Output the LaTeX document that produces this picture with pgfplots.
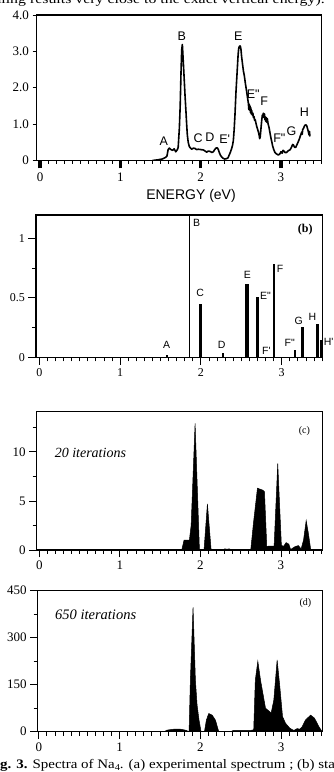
\documentclass[border=0pt]{standalone}
\usepackage{fontspec}
\setmainfont{Liberation Serif}
\newfontfamily\hv{Liberation Sans}
\newfontfamily\wide{Liberation Serif}[FakeStretch=1.22]
\newfontfamily\capwide{Liberation Serif}[FakeStretch=1.15]
\usepackage{pgfplots}
\pgfplotsset{compat=1.18}

\pgfplotsset{
  spec/.style={
    scale only axis, anchor=north west,
    axis line style={line width=1.3pt},
    tick align=outside, tick pos=left,
    xtick={0,1,2,3},
    minor xtick={0.1,0.2,...,3.55},
    every tick/.style={black, line width=0.9pt},
    tick label style={font=\fontsize{13}{13}\selectfont},
    /pgf/number format/assume math mode=true,
    clip mode=individual,
  },
}
\tikzset{
  pk/.style={font=\hv\fontsize{12.5}{12.5}\selectfont, inner sep=0pt},
  pkb/.style={font=\hv\fontsize{10.5}{10.5}\selectfont, inner sep=0pt},
}

\begin{document}
\begin{tikzpicture}
\path[use as bounding box] (0pt,0pt) rectangle (333pt,772pt);

% running text above and caption below
\node[anchor=base east, inner sep=0pt, font=\wide\fontsize{13}{13}\selectfont] at (325pt,768pt)
  {rivaling results very close to the exact vertical energy).};
\node[anchor=base west, inner sep=0pt, font=\capwide\fontsize{13}{13}\selectfont] at (0pt,4pt)
  {\llap{\textbf{Fi}}\textbf{g. 3.} Spectra of Na\raisebox{-0.35ex}{\fontsize{9}{9}\selectfont 4}. (a) experimental spectrum ; (b) sta};

% (a) experimental spectrum
\begin{axis}[spec, at={(36.5pt,757pt)}, width=285.2pt, height=145.5pt,
  xmin=-0.044, xmax=3.507, ymin=0, ymax=4,
  ytick={0,1,2,3,4}, yticklabels={0,1.0,2.0,3.0,4.0},
  major tick length=4pt, minor tick length=3.5pt,
  xticklabel style={yshift=-5pt},
  extra x ticks={0,1,2,3}, extra x tick labels={},
  extra x tick style={major tick length=8pt, tick style={line width=3.5pt}},
]
\addplot[black, line width=1.6pt, line join=round] coordinates {
(1.40,0)(1.47,0.02)(1.52,0.04)(1.56,0.08)(1.58,0.12)(1.595,0.30)(1.61,0.34)
(1.63,0.30)(1.65,0.28)(1.67,0.32)(1.69,0.24)(1.71,0.30)(1.72,0.36)(1.735,0.9)
(1.745,1.5)(1.755,2.4)(1.764,3.05)(1.772,3.19)(1.778,2.95)(1.784,2.7)(1.79,2.45)
(1.797,2.15)(1.805,1.8)(1.817,1.34)(1.826,0.98)(1.834,0.70)(1.845,0.50)(1.859,0.38)
(1.888,0.31)(1.91,0.34)(1.93,0.33)(1.95,0.30)(1.97,0.31)(2.0,0.30)(2.033,0.29)
(2.055,0.26)(2.075,0.23)(2.095,0.26)(2.116,0.25)(2.14,0.22)(2.158,0.24)(2.175,0.30)
(2.19,0.34)(2.207,0.35)(2.22,0.30)(2.232,0.22)(2.245,0.15)(2.26,0.10)(2.28,0.06)
(2.30,0.04)(2.32,0.05)(2.34,0.07)(2.355,0.15)(2.365,0.20)(2.375,0.26)(2.386,0.33)
(2.397,0.42)(2.407,0.55)(2.417,0.85)(2.427,1.25)(2.44,1.9)(2.457,2.55)(2.466,2.9)
(2.473,3.07)(2.48,3.13)(2.49,3.15)(2.496,3.12)(2.502,3.05)(2.51,2.85)(2.523,2.62)
(2.533,2.45)(2.543,2.34)(2.558,2.1)(2.573,1.89)(2.584,1.72)(2.594,1.57)(2.60,1.40)
(2.604,1.55)(2.61,1.38)(2.614,1.50)(2.62,1.32)(2.625,1.45)(2.63,1.28)(2.635,1.38)
(2.642,1.25)(2.65,1.30)(2.657,1.18)(2.664,1.21)(2.672,1.10)(2.68,1.12)(2.689,1.02)
(2.70,0.92)(2.71,0.85)(2.718,0.79)(2.728,0.70)(2.735,0.60)(2.742,0.66)(2.751,0.88)
(2.76,1.10)(2.768,1.25)(2.775,1.18)(2.78,1.30)(2.789,1.22)(2.795,1.28)(2.80,1.12)
(2.806,1.20)(2.81,1.08)(2.818,1.18)(2.823,1.05)(2.83,1.15)(2.84,1.0)(2.85,0.92)
(2.86,0.80)(2.872,0.65)(2.885,0.52)(2.896,0.40)(2.91,0.30)(2.925,0.22)(2.945,0.18)
(2.967,0.15)(2.985,0.18)(3.0,0.24)(3.015,0.20)(3.025,0.28)(3.037,0.26)(3.05,0.22)
(3.07,0.22)(3.09,0.27)(3.112,0.29)(3.13,0.36)(3.145,0.44)(3.154,0.43)(3.17,0.36)
(3.183,0.36)(3.2,0.44)(3.216,0.52)(3.23,0.60)(3.245,0.70)(3.258,0.78)(3.265,0.72)
(3.27,0.85)(3.28,0.88)(3.29,0.94)(3.30,0.97)(3.31,0.98)(3.32,0.96)(3.33,0.88)
(3.34,0.80)(3.35,0.70)(3.355,0.80)(3.36,0.66)
};
\node[pk] at (axis cs:1.54,0.52) {A};
\node[pk] at (axis cs:1.764,3.43) {B};
\node[pk] at (axis cs:1.97,0.61) {C};
\node[pk] at (axis cs:2.116,0.63) {D};
\node[pk] at (axis cs:2.30,0.58) {E'};
\node[pk] at (axis cs:2.47,3.43) {E};
\node[pk] at (axis cs:2.655,1.82) {E"};
\node[pk] at (axis cs:2.79,1.63) {F};
\node[pk] at (axis cs:2.98,0.61) {F"};
\node[pk] at (axis cs:3.13,0.80) {G};
\node[pk] at (axis cs:3.29,1.33) {H};
\end{axis}
\node[font=\hv\fontsize{14}{14}\selectfont, inner sep=0pt] at (191pt,576pt) {ENERGY (eV)};

% (b) stick spectrum
\begin{axis}[spec, at={(36pt,557pt)}, width=286.7pt, height=142.3pt,
  xmin=-0.041, xmax=3.507, ymin=0, ymax=1.196,
  ytick={0,0.5,1}, yticklabels={0,0.5,1}, minor ytick={0.25,0.75},
  major tick length=7.5pt, minor tick length=4pt,
  tick label style={font=\fontsize{12}{12}\selectfont},
]
\addplot[ycomb, black, line width=1.4pt] coordinates {(1.857,2)(2.904,0.78)};
\addplot[ycomb, black, line width=3.3pt] coordinates {
  (1.993,0.445)(2.570,0.613)(2.702,0.51)(3.255,0.258)(3.44,0.28)};
\addplot[ycomb, black, line width=2.2pt] coordinates {
  (1.584,0.02)(2.269,0.034)(3.168,0.062)(3.486,0.146)};
\node[pkb] at (axis cs:1.947,1.126) {B};
\node[pkb] at (axis cs:1.99,0.538) {C};
\node[pkb] at (axis cs:1.576,0.104) {A};
\node[pkb] at (axis cs:2.257,0.104) {D};
\node[pkb] at (axis cs:2.574,0.69) {E};
\node[pkb] at (axis cs:2.80,0.515) {E"};
\node[pkb] at (axis cs:2.81,0.053) {F'};
\node[pkb] at (axis cs:2.98,0.74) {F};
\node[pkb] at (axis cs:3.10,0.118) {F"};
\node[pkb] at (axis cs:3.21,0.31) {G};
\node[pkb] at (axis cs:3.38,0.34) {H};
\node[pkb] at (axis cs:3.58,0.13) {H'};
\node[font=\fontsize{12}{12}\selectfont\bfseries, inner sep=0pt] at (axis cs:3.29,1.07) {(b)};
\end{axis}

% (c) 20 iterations
\begin{axis}[spec, at={(36.7pt,360.3pt)}, width=286pt, height=138.3pt,
  xmin=-0.032, xmax=3.518, ymin=0, ymax=14.1,
  ytick={0,5,10}, minor ytick={2.5,7.5,12.5},
  major tick length=7.5pt, minor tick length=4pt,
]
\addplot[fill=black, draw=black, line width=0.5pt] coordinates {
(1.75,0)(1.768,0)(1.797,1.0)(1.863,1.0)(1.885,2.5)(1.934,12.9)(1.988,0)(2.045,0)
(2.087,4.7)(2.133,0)(2.29,0)(2.30,0.12)(2.33,0.08)(2.36,0.12)(2.38,0)(2.625,0)
(2.658,2.7)(2.708,6.3)(2.774,6.1)(2.795,5.95)(2.824,0.3)(2.845,0.4)(2.915,0.4)
(2.96,8.8)(3.005,0.5)(3.03,0.35)(3.064,0.75)(3.097,0.6)(3.12,0.05)(3.176,0.35)
(3.217,0.45)(3.25,0.1)(3.28,1.0)(3.313,3.0)(3.34,1.7)(3.37,0)(3.5,0)
} \closedcycle;
\node[anchor=base west, inner sep=0pt, font=\fontsize{14}{14}\selectfont\itshape] at (axis cs:0.19,9.4) {20 iterations};
\node[font=\fontsize{10}{10}\selectfont, inner sep=0pt] at (axis cs:3.29,12.1) {(c)};
\end{axis}

% (d) 650 iterations
\begin{axis}[spec, at={(37.7pt,181.3pt)}, width=285pt, height=141pt,
  xmin=-0.014, xmax=3.514, ymin=0, ymax=450,
  ytick={0,150,300,450}, minor ytick={75,225,375},
  major tick length=7.5pt, minor tick length=4pt,
]
\addplot[fill=black, draw=black, line width=0.5pt] coordinates {
(1.55,0)(1.587,5)(1.67,8)(1.752,8)(1.814,5)(1.843,2)(1.86,0)(1.876,165)(1.909,397)
(1.938,165)(1.959,85)(1.983,37)(2.008,0)(2.05,0)(2.074,37)(2.103,58)(2.145,53)
(2.186,37)(2.227,0)(2.37,0)(2.41,4)(2.62,4)(2.66,6)(2.68,165)(2.711,225)(2.744,165)
(2.806,75)(2.876,60)(2.909,101)(2.95,229)(2.983,144)(3.017,48)(3.054,27)(3.107,11)
(3.157,4)(3.198,10)(3.23,8)(3.26,16)(3.30,37)(3.364,53)(3.413,43)(3.467,16)(3.508,0)
} \closedcycle;
\node[anchor=base west, inner sep=0pt, font=\fontsize{14.5}{14.5}\selectfont\itshape] at (axis cs:0.2,358) {650 iterations};
\node[font=\fontsize{10}{10}\selectfont, inner sep=0pt] at (axis cs:3.3,412) {(d)};
\end{axis}
\end{tikzpicture}
\end{document}
